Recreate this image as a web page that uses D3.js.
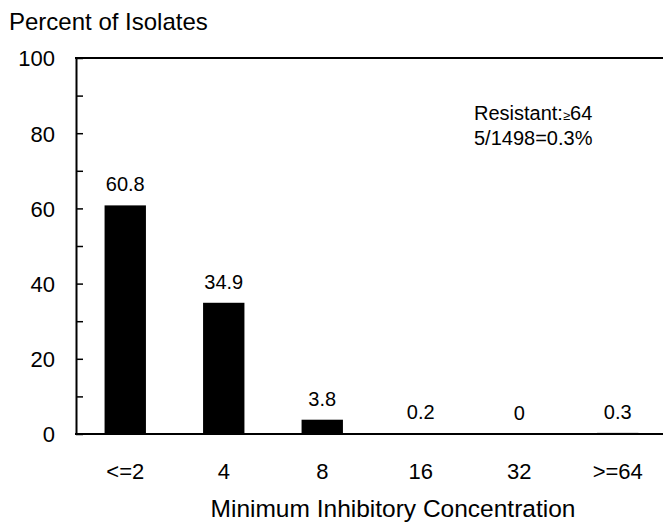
<!DOCTYPE html>
<html>
<head>
<meta charset="utf-8">
<script src="https://cdn.jsdelivr.net/npm/d3@7"></script>
<style>
  body { margin: 0; background: #fff; }
  svg { display: block; font-family: "Liberation Sans", Arial, sans-serif; }
  .axis path, .axis line { stroke: #000; }
  .axis text { font-size: 22px; fill: #000; }
</style>
</head>
<body>
<svg id="chart" width="663" height="523"></svg>
<script>
  // MIC distribution, percent of isolates
  const categories = ['<=2', '4', '8', '16', '32', '>=64'];
  const percents = [60.8, 34.9, 3.8, 0.2, 0, 0.3];
  const labels = ['60.8', '34.9', '3.8', '0.2', '0', '0.3'];
  const yTicks = [0, 10, 20, 30, 40, 50, 60, 70, 80, 90, 100];

  const svg = d3.select('#chart');
  const plotLeft = 76, plotRight = 667, plotTop = 58, plotBottom = 434;

  const x = d3.scaleBand()
    .domain(categories)
    .range([plotLeft, plotRight])
    .paddingInner(0.58)
    .paddingOuter(0.29);

  const y = d3.scaleLinear().domain([0, 100]).range([plotBottom, plotTop]);

  // y axis, ticks point inward
  const yAxis = svg.append('g')
    .attr('class', 'axis')
    .attr('transform', `translate(${plotLeft},0)`)
    .call(d3.axisLeft(y)
      .tickValues(yTicks)
      .tickSizeInner(-7)
      .tickSizeOuter(0)
      .tickPadding(21)
      .tickFormat(d => d % 20 === 0 ? d : ''));
  yAxis.select('.domain').attr('stroke-width', 2);
  yAxis.selectAll('.tick line').attr('stroke-width', 1.5);
  yAxis.selectAll('.tick text').attr('dy', '0.36em');

  // top frame line and baseline
  svg.append('line')
    .attr('x1', plotLeft - 1).attr('x2', 663)
    .attr('y1', y(100)).attr('y2', y(100))
    .attr('stroke', '#000').attr('stroke-width', 2);
  svg.append('line')
    .attr('x1', plotLeft - 1).attr('x2', 663)
    .attr('y1', y(0)).attr('y2', y(0))
    .attr('stroke', '#000').attr('stroke-width', 2);

  // bars
  svg.selectAll('.bar')
    .data(percents)
    .enter().append('rect')
    .attr('class', 'bar')
    .attr('x', (d, i) => x(categories[i]))
    .attr('width', x.bandwidth())
    .attr('y', d => y(d))
    .attr('height', d => y(0) - y(d))
    .attr('fill', '#000');

  // value labels
  svg.selectAll('.val')
    .data(percents)
    .enter().append('text')
    .attr('class', 'val')
    .attr('x', (d, i) => x(categories[i]) + x.bandwidth() / 2)
    .attr('y', d => y(d) - 14)
    .attr('text-anchor', 'middle')
    .attr('font-size', 20)
    .text((d, i) => labels[i]);

  // category labels
  svg.selectAll('.cat')
    .data(categories)
    .enter().append('text')
    .attr('class', 'cat')
    .attr('x', d => x(d) + x.bandwidth() / 2)
    .attr('y', 479)
    .attr('text-anchor', 'middle')
    .attr('font-size', 22)
    .text(d => d);

  // axis titles
  svg.append('text')
    .attr('x', 9).attr('y', 30)
    .attr('font-size', 24)
    .text('Percent of Isolates');
  svg.append('text')
    .attr('x', 393).attr('y', 517)
    .attr('text-anchor', 'middle')
    .attr('font-size', 24.5)
    .text('Minimum Inhibitory Concentration');

  // resistance note
  const note = svg.append('text')
    .attr('x', 474).attr('y', 120)
    .attr('font-size', 20);
  note.append('tspan').text('Resistant:');
  note.append('tspan').attr('font-size', 13).text('\u2265');
  note.append('tspan').text('64');
  svg.append('text')
    .attr('x', 474).attr('y', 145)
    .attr('font-size', 20)
    .text('5/1498=0.3%');
</script>
</body>
</html>
